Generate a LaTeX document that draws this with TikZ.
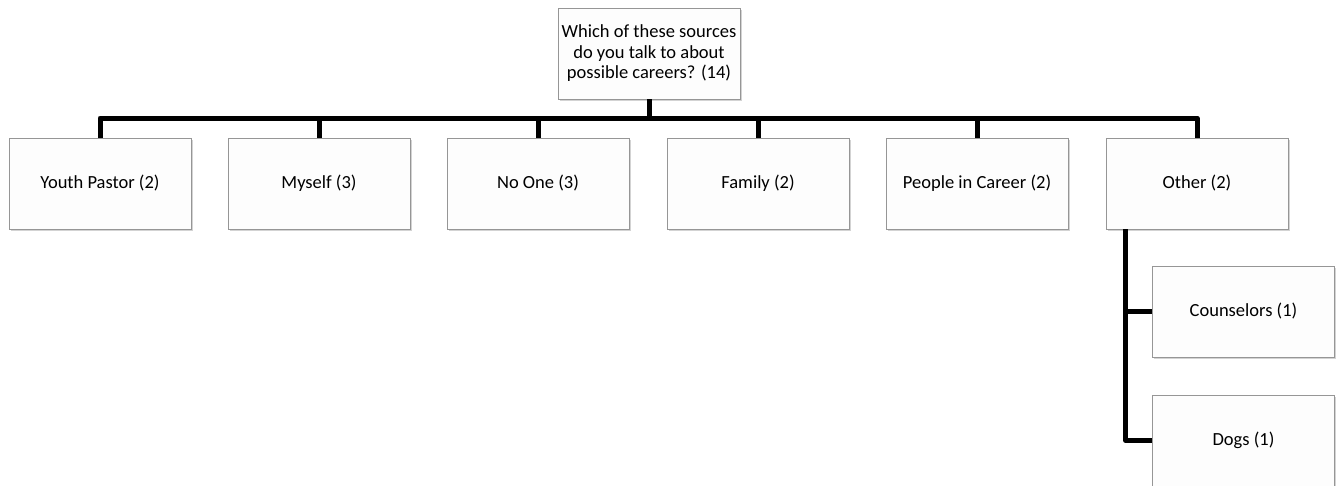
\documentclass[tikz,border=0pt]{standalone}
\usepackage{fontspec}
\setmainfont{Carlito}
\usetikzlibrary{shadows}
\begin{document}
\begin{tikzpicture}[x=1pt,y=-1pt,
  box/.style={draw={rgb,255:red,150;green,150;blue,150}, line width=0.8pt,
    fill={rgb,255:red,253;green,253;blue,253},
    minimum width=182pt, minimum height=91pt, inner sep=2pt,
    font=\fontsize{18.5}{20.5}\selectfont, align=center,
    drop shadow={opacity=0.35, shadow xshift=1.5pt, shadow yshift=-1.5pt}},
  leaf/.style={box, text height=13pt, text depth=4pt},
  conn/.style={line width=5pt, draw=black, line join=round}]
\path[use as bounding box] (0,0) rectangle (1336,485);
\clip (0,0) rectangle (1336,485);
\node[box] (top) at (649,53.5) {Which of these sources\\do you talk to about\\possible careers? (14)};
\node[leaf] (yp) at (100,183.5) {Youth Pastor (2)};
\node[leaf] (my) at (319,183.5) {Myself (3)};
\node[leaf] (no) at (538,183.5) {No One (3)};
\node[leaf] (fa) at (758,183.5) {Family (2)};
\node[leaf] (pc) at (977,183.5) {People in Career (2)};
\node[leaf] (ot) at (1197,183.5) {Other (2)};
\node[leaf] (co) at (1243.5,311.5) {Counselors (1)};
\node[leaf] (dg) at (1243.5,440.5) {Dogs (1)};
\coordinate (bus) at (649,118);
\coordinate (ob) at ([xshift=20pt]ot.south west);
\foreach \c in {yp,my,no,fa,pc,ot}{
  \draw[conn] (top.south) |- (bus) -| (\c.north);
}
\draw[conn] (ob) |- (co.west);
\draw[conn] (ob) |- (dg.west);
\end{tikzpicture}
\end{document}
